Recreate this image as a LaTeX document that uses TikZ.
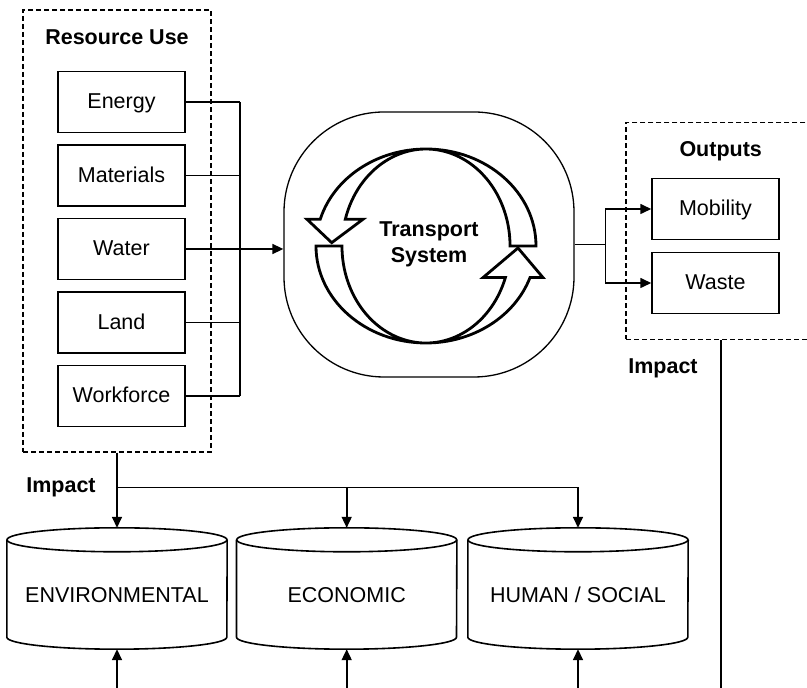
\documentclass[tikz,border=0pt]{standalone}
\usepackage{fontspec}
\setmainfont{Liberation Sans}
\usetikzlibrary{positioning,arrows.meta}

\begin{document}
\begin{tikzpicture}[x=1pt,y=1pt,
  every node/.style={font=\fontsize{21.5}{26}\selectfont},
  heading/.style={font=\fontsize{21.5}{26}\selectfont\bfseries},
  itembox/.style={draw, line width=1.5pt, minimum width=127pt, minimum height=61pt,
                  inner sep=0pt, text height=16pt, text depth=2.5pt},
  groupbox/.style={draw, line width=1.3pt, dash pattern=on 5pt off 3pt, inner sep=0pt},
  link/.style={line width=1.6pt},
  flow/.style={link, -{Triangle[length=11pt,width=10pt]}},
  cylbox/.style={minimum width=220pt, minimum height=121pt, inner sep=0pt,
                 text height=28.4pt, text depth=0pt},
  cycarrow/.style={draw, fill=white, line width=2.8pt, line join=miter}]
\def\ry{12pt} % half height of a cylinder lid
\def\rx{110pt} % half width of a cylinder
\useasboundingbox (0,0) rectangle (807,688);
\clip (0,0) rectangle (807,688);

% resource use
\node[groupbox, minimum width=188pt, minimum height=442pt] (res) at (117,457) {};
\node[heading] (restitle) at ([yshift=-28pt]res.north) {Resource Use};
\node[itembox] (energy) at (121.5,586) {Energy};
\node[itembox, below=11pt of energy] (materials) {Materials};
\node[itembox, below=11pt of materials] (water) {Water};
\node[itembox, below=11pt of water] (land) {Land};
\node[itembox, below=11pt of land] (workforce) {Workforce};

% transport system
\node[draw, line width=1.3pt, rounded corners=100pt, minimum width=290pt,
      minimum height=265pt, heading, align=center] (sys) at (429,443.5) {Transport\\System};
\begin{scope}[shift={(426,442)}]
\draw[cycarrow] (-110,0) arc[start angle=180, end angle=341, x radius=110pt, y radius=97pt]
  -- (117,-31.6) -- (92,-2) -- (57,-31.6) -- (79.4,-31.6)
  arc[start angle=341, end angle=180, x radius=84pt, y radius=97pt] -- cycle;
\draw[cycarrow] (110,0) arc[start angle=0, end angle=164, x radius=110pt, y radius=97pt]
  -- (-119,26.7) -- (-94.3,3.3) -- (-63,26.7) -- (-80.7,26.7)
  arc[start angle=164, end angle=0, x radius=84pt, y radius=97pt] -- cycle;
\end{scope}

% outputs
\node[groupbox, minimum width=189.4pt, minimum height=216.6pt] (outbox) at (720.7,457) {};
\node[heading] (outtitle) at ([yshift=-29pt]outbox.north) {Outputs};
\node[itembox] (mobility) at (715.5,479) {Mobility};
\node[itembox, below=11.5pt of mobility] (waste) {Waste};

% impacts
\node[heading] (impactleft) at (61,201) {Impact};
\node[heading] (impactright) at (663,320) {Impact};
\node[cylbox] (env) at (117,99.5) {ENVIRONMENTAL};
\node[cylbox] (eco) at (346.7,99.5) {ECONOMIC};
\node[cylbox] (soc) at (578,99.5) {HUMAN / SOCIAL};
\foreach \n in {env,eco,soc}
{
\draw[link] ([yshift=-\ry]\n.north west) -- ([yshift=\ry]\n.south west)
  arc[start angle=180, end angle=360, x radius=\rx, y radius=\ry]
  -- ([yshift=-\ry]\n.north east);
\draw[link] ([yshift=-\ry]\n.north) ellipse[x radius=\rx, y radius=\ry];
\coordinate (\n-in) at (\n.south |- 0,0);
\draw[flow] (\n-in) -- (\n.south);
}

% connectors
\coordinate (bus) at (240,0);
\foreach \n in {energy,materials,land,workforce}
  \draw[link] (\n.east) -- (\n.east -| bus);
\draw[link] (energy.east -| bus) -- (workforce.east -| bus);
\draw[flow] (water.east) -- (water.east -| sys.west);
\coordinate (split) at ([xshift=31pt]sys.east);
\draw[link] (sys.east) -- (split);
\draw[flow] (split) |- (mobility.west);
\draw[flow] (split) |- (waste.west);
\coordinate (fork) at (117,200.3);
\draw[flow] (res.south) -- (env.north);
\draw[flow] (fork) -| (soc.north);
\draw[flow] (fork -| eco.north) -- (eco.north);
\coordinate (outfoot) at (outbox.south |- 0,0);
\draw[link] (outbox.south) -- (outfoot);
\end{tikzpicture}
\end{document}
